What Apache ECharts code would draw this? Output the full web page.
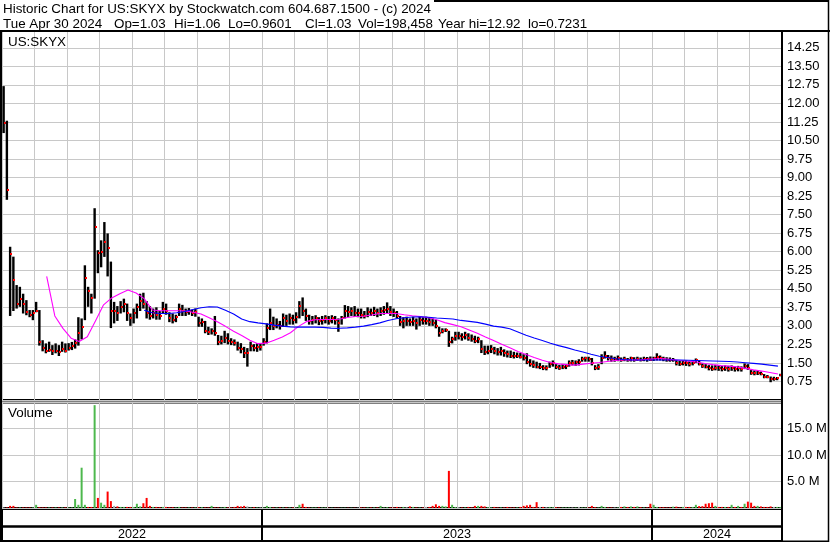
<!DOCTYPE html>
<html>
<head>
<meta charset="utf-8">
<script src="https://cdn.jsdelivr.net/npm/echarts/dist/echarts.min.js"></script>
<style>html,body{margin:0;padding:0;background:#fff}#c{width:830px;height:543px}</style>
</head>
<body>
<div id="c"></div>
<script>
// ---------------- DATA ----------------
const titleLine1 = 'Historic Chart for US:SKYX by Stockwatch.com 604.687.1500 - (c) 2024';
const titleFields = ['Tue Apr 30 2024', 'Op=1.03', 'Hi=1.06', 'Lo=0.9601', 'Cl=1.03', 'Vol=198,458', 'Year hi=12.92', 'lo=0.7231'];
const symbolLabel = 'US:SKYX';
const volumeTitle = 'Volume';

// months covered by the chart (categories)
const months = ['2022-05','2022-06','2022-07','2022-08','2022-09','2022-10','2022-11','2022-12',
  '2023-01','2023-02','2023-03','2023-04','2023-05','2023-06','2023-07','2023-08','2023-09','2023-10','2023-11','2023-12',
  '2024-01','2024-02','2024-03','2024-04'];

const priceLabels = ['0.75','1.50','2.25','3.00','3.75','4.50','5.25','6.00','6.75','7.50','8.25','9.00',
  '9.75','10.50','11.25','12.00','12.75','13.50','14.25'];
const volumeLabels = ['5.0 M','10.0 M','15.0 M'];

// sampled price bars (10 per month)
const highs = [
12.7,11.3,6.2,5.8,4.65,4.58,4.3,4.04,3.64,3.64,
3.97,3.64,2.42,2.29,2.36,2.22,2.29,2.22,2.36,2.29,
2.3,2.35,2.45,3.35,3.3,5.45,4.58,4.3,7.76,6.06,
6.46,7.2,6.74,5.6,3.97,3.8,4.0,4.1,3.9,3.5,
3.7,3.9,4.3,4.34,4.0,3.8,3.7,3.75,3.6,3.97,
3.9,3.55,3.5,3.45,3.9,3.85,3.7,3.72,3.65,3.7,
3.37,3.3,3.2,2.96,2.9,3.4,2.63,2.6,2.8,2.7,
2.5,2.45,2.36,2.3,2.15,2.1,2.36,2.26,2.3,2.3,
2.5,3.1,3.7,3.37,3.3,3.2,3.5,3.45,3.5,3.45,
3.55,4.0,4.15,3.7,3.45,3.4,3.43,3.35,3.4,3.43,
3.4,3.43,3.4,3.3,3.4,3.84,3.8,3.75,3.8,3.7,
3.7,3.6,3.75,3.7,3.77,3.7,3.75,3.8,3.95,3.8,
3.7,3.6,3.4,3.35,3.37,3.3,3.37,3.3,3.37,3.35,
3.37,3.35,3.3,3.25,2.96,2.9,2.9,2.8,2.56,2.76,
2.76,2.7,2.76,2.7,2.65,2.6,2.56,2.42,2.2,2.2,
2.22,2.15,2.1,2.15,2.05,2.0,2.0,1.95,1.92,1.9,
1.85,1.89,1.65,1.6,1.55,1.5,1.41,1.4,1.55,1.6,
1.45,1.42,1.45,1.45,1.6,1.62,1.6,1.65,1.75,1.75,
1.75,1.7,1.41,1.45,1.85,1.97,1.82,1.8,1.75,1.8,
1.72,1.75,1.7,1.75,1.73,1.75,1.72,1.75,1.74,1.76,
1.75,1.89,1.8,1.75,1.73,1.72,1.7,1.62,1.58,1.6,
1.6,1.58,1.6,1.68,1.6,1.48,1.45,1.41,1.4,1.42,
1.4,1.38,1.4,1.38,1.4,1.35,1.38,1.36,1.48,1.45,
1.21,1.2,1.18,1.15,1.05,1.01,0.95,0.94,0.93,1.06];

const lows = [
10.8,8.1,3.4,3.6,3.7,3.77,3.5,3.43,3.35,3.23,
3.55,2.2,1.97,1.89,1.95,1.82,1.89,1.78,1.95,1.92,
2.0,2.02,2.08,2.2,2.45,3.23,3.77,3.5,4.1,5.13,
5.37,5.79,5.0,2.91,3.1,3.2,3.5,3.55,3.2,3.0,
3.1,3.3,3.6,3.7,3.3,3.25,3.3,3.25,3.25,3.5,
3.45,3.15,3.1,3.15,3.4,3.4,3.4,3.45,3.4,3.37,
2.96,2.96,2.7,2.63,2.65,2.6,2.22,2.25,2.3,2.25,
2.22,2.2,2.0,1.89,1.7,1.35,1.97,1.97,1.95,2.0,
2.2,2.29,2.83,2.83,2.9,2.85,2.96,3.0,3.05,3.05,
3.1,3.3,3.4,3.2,3.05,3.05,3.1,3.03,3.05,3.1,
3.05,3.1,3.05,2.76,3.05,3.3,3.36,3.4,3.36,3.35,
3.3,3.3,3.35,3.4,3.4,3.35,3.4,3.45,3.5,3.4,
3.36,3.3,3.0,2.9,3.0,3.0,3.0,2.85,3.0,3.05,
3.05,3.0,3.0,2.9,2.56,2.7,2.75,2.15,2.29,2.4,
2.45,2.4,2.45,2.4,2.36,2.3,2.3,1.9,1.82,1.85,
1.9,1.85,1.8,1.8,1.75,1.72,1.7,1.68,1.7,1.68,
1.6,1.45,1.35,1.3,1.28,1.25,1.21,1.2,1.3,1.35,
1.25,1.22,1.25,1.25,1.35,1.4,1.38,1.4,1.55,1.55,
1.55,1.4,1.21,1.22,1.45,1.68,1.6,1.55,1.55,1.57,
1.55,1.57,1.55,1.56,1.55,1.58,1.56,1.57,1.55,1.58,
1.58,1.6,1.6,1.57,1.55,1.55,1.55,1.4,1.38,1.4,
1.38,1.36,1.4,1.5,1.4,1.3,1.28,1.2,1.18,1.2,
1.18,1.16,1.18,1.15,1.18,1.15,1.16,1.15,1.25,1.22,
1.02,1.0,1.01,1.0,0.88,0.88,0.72,0.78,0.8,0.96];

const closes = [
11.2,8.5,5.9,4.85,3.9,4.1,3.88,3.55,3.45,3.5,
3.6,2.35,2.1,1.99,2.02,1.98,2.0,1.95,2.05,1.99,
2.1,2.2,2.3,2.7,2.95,4.93,4.42,4.12,7.0,5.95,
6.0,6.4,6.14,3.6,3.6,3.5,3.75,3.9,3.5,3.3,
3.5,3.75,4.0,3.9,3.5,3.4,3.5,3.45,3.4,3.7,
3.6,3.3,3.25,3.35,3.7,3.6,3.55,3.6,3.5,3.55,
3.1,3.15,2.8,2.76,2.8,2.7,2.36,2.4,2.5,2.4,
2.35,2.3,2.1,2.05,1.9,1.9,2.2,2.1,2.15,2.15,
2.35,2.9,3.1,3.0,3.05,3.0,3.3,3.2,3.3,3.25,
3.35,3.8,3.6,3.4,3.2,3.25,3.3,3.2,3.25,3.3,
3.2,3.3,3.25,3.1,3.3,3.6,3.55,3.6,3.5,3.5,
3.45,3.4,3.55,3.5,3.6,3.5,3.6,3.65,3.7,3.55,
3.5,3.4,3.15,3.2,3.2,3.15,3.2,3.1,3.25,3.2,
3.2,3.15,3.1,3.0,2.7,2.8,2.85,2.35,2.45,2.6,
2.6,2.55,2.65,2.5,2.45,2.4,2.45,2.05,1.95,2.0,
2.05,2.0,1.95,1.98,1.9,1.85,1.8,1.78,1.8,1.75,
1.7,1.55,1.45,1.4,1.35,1.35,1.3,1.3,1.45,1.5,
1.35,1.3,1.35,1.38,1.5,1.5,1.55,1.55,1.65,1.68,
1.65,1.5,1.3,1.35,1.7,1.8,1.7,1.65,1.65,1.68,
1.62,1.65,1.6,1.68,1.63,1.65,1.62,1.66,1.64,1.6,
1.68,1.75,1.7,1.65,1.62,1.6,1.62,1.5,1.45,1.5,
1.48,1.45,1.5,1.6,1.45,1.38,1.35,1.28,1.24,1.3,
1.28,1.25,1.3,1.25,1.28,1.25,1.28,1.26,1.38,1.3,
1.1,1.08,1.1,1.05,0.95,0.93,0.85,0.85,0.88,1.03];

// volume in millions (same sampling)
const volumes = [
0.1,0.1,0.4,0.4,0.1,0.1,0.1,0.1,0.1,0.1,
0.6,0.15,0.1,0.1,0.1,0.1,0.1,0.1,0.1,0.1,
0.1,0.1,1.7,0.6,7.6,0.6,0.2,0.2,19.4,1.9,
1.0,0.6,3.1,1.3,0.4,0.3,0.2,0.2,0.2,0.2,
0.2,0.8,0.3,0.9,1.9,0.4,0.2,0.2,0.15,0.2,
0.2,0.15,0.15,0.1,0.2,0.1,0.1,0.1,0.1,0.1,
0.15,0.15,0.1,0.1,0.4,0.1,0.1,0.1,0.2,0.1,
0.1,0.2,0.4,0.3,0.4,0.3,0.1,0.15,0.1,0.1,
0.1,0.4,0.2,0.1,0.1,0.1,0.1,0.1,0.1,0.1,
0.1,0.6,0.8,0.2,0.1,0.1,0.1,0.1,0.1,0.1,
0.05,0.05,0.05,0.05,0.05,0.05,0.05,0.05,0.05,0.05,
0.1,0.1,0.1,0.1,0.1,0.1,0.4,0.1,0.15,0.1,
0.1,0.2,0.1,0.2,0.15,0.3,0.2,0.1,0.1,0.1,
0.2,0.2,0.4,0.7,0.4,0.4,0.3,7.0,0.6,0.2,
0.15,0.1,0.1,0.2,0.1,0.4,0.4,0.4,0.3,0.15,
0.1,0.2,0.1,0.1,0.1,0.2,0.1,0.1,0.1,0.2,
0.4,0.5,0.6,0.2,1.1,0.2,0.2,0.15,0.2,0.15,
0.15,0.1,0.1,0.1,0.1,0.1,0.1,0.2,0.1,0.1,
0.1,0.4,0.15,0.1,0.4,0.2,0.1,0.1,0.1,0.1,
0.2,0.3,0.2,0.3,0.2,0.3,0.15,0.1,0.1,0.8,
0.6,0.2,0.15,0.15,0.1,0.1,0.25,0.25,0.1,0.2,
0.2,0.2,0.2,0.6,0.35,0.35,0.8,0.9,1.0,0.4,
0.2,0.2,0.2,0.2,0.6,0.2,0.4,0.2,0.8,1.2,
1.0,0.4,0.4,0.3,0.2,0.2,0.3,0.2,0.2,0.2];

// moving averages (4 samples per month)
const maFast = [
null,null,null,null,
null,5.0,3.4,2.9,
2.5,2.37,2.56,3.2,
3.85,4.13,4.3,4.45,
4.33,4.1,3.64,3.61,
3.61,3.61,3.6,3.55,
3.48,3.33,3.17,2.98,
2.78,2.61,2.42,2.28,
2.3,2.42,2.55,2.72,
2.98,3.18,3.25,3.26,
3.26,3.27,3.34,3.38,
3.39,3.44,3.5,3.5,
3.5,3.45,3.41,3.38,
3.33,3.25,3.13,3.05,
2.96,2.83,2.7,2.55,
2.41,2.26,2.11,1.96,
1.84,1.72,1.61,1.52,
1.46,1.43,1.41,1.45,
1.49,1.52,1.56,1.6,
1.62,1.62,1.62,1.65,
1.67,1.67,1.64,1.6,
1.57,1.54,1.48,1.43,
1.39,1.37,1.34,1.28,
1.22,1.17,1.11,1.05];

const maSlow = [
null,null,null,null,
null,null,null,null,
null,null,null,null,
null,null,null,null,
null,3.63,3.53,3.5,
3.5,3.53,3.58,3.66,
3.73,3.77,3.76,3.63,
3.48,3.28,3.17,3.12,
3.08,3.03,2.99,2.96,
2.95,2.95,2.95,2.94,
2.91,2.9,2.92,2.95,
2.99,3.05,3.12,3.22,
3.29,3.33,3.36,3.37,
3.35,3.32,3.3,3.28,
3.22,3.18,3.14,3.07,
2.99,2.95,2.88,2.75,
2.62,2.51,2.41,2.3,
2.2,2.12,2.02,1.94,
1.85,1.77,1.72,1.67,
1.64,1.62,1.62,1.62,
1.62,1.62,1.62,1.62,
1.61,1.6,1.59,1.58,
1.57,1.56,1.54,1.51,
1.48,1.45,1.41,1.37];

// ---------------- BUILD ----------------
const FONT = '"Liberation Sans", Arial, sans-serif';
const nMonths = months.length;
const barsPerMonth = highs.length / nMonths;
const maPerMonth = maFast.length / nMonths;

const barData = highs.map((h, k) => [(k + 0.5) / barsPerMonth, lows[k], h, closes[k]]);
const volData = volumes.map((v, k) => [(k + 0.5) / barsPerMonth, v]);
const toLine = arr => arr.map((v, j) => v == null ? null : [(j + 0.5) / maPerMonth, v]).filter(Boolean);

const yearBands = [];
months.forEach((m, i) => {
  const y = m.slice(0, 4);
  const last = yearBands[yearBands.length - 1];
  if (!last || last.name !== y) yearBands.push({ name: y, start: i, end: i + 1 });
  else last.end = i + 1;
});
const yearData = yearBands.map(b => [b.start, b.end, 0.5]);

const GRID_L = 2, GRID_R = 48;
const gridColor = '#c8c8c8';

function yearRender(withText) {
  return function (params, api) {
    const s = api.coord([api.value(0), 0.5]);
    const e = api.coord([api.value(1), 0.5]);
    const cs = params.coordSys;
    const ch = [];
    if (api.value(0) > 0) {
      ch.push({ type: 'rect', shape: { x: Math.round(s[0]) - 1, y: cs.y, width: 2, height: cs.height }, style: { fill: '#000' } });
    }
    if (withText) {
      ch.push({ type: 'text', style: { text: yearBands[params.dataIndex].name, x: (s[0] + e[0]) / 2, y: cs.y + cs.height / 2 + 1,
        align: 'center', verticalAlign: 'middle', font: '12.6px ' + FONT, fill: '#000' } });
    }
    return { type: 'group', children: ch };
  };
}

// header line-2 field start positions (layout)
const fieldX = [3, 114, 174, 228, 305, 358, 438, 528];
const headerFont = '13.4px ' + FONT;

const graphics = [
  { type: 'text', x: 3, y: 9.3, z: 100, style: { text: titleLine1, font: headerFont, fill: '#000', verticalAlign: 'middle' } },
  { type: 'text', x: 8, y: 42.2, z: 100, style: { text: symbolLabel, font: headerFont, fill: '#000', verticalAlign: 'middle' } },
  { type: 'text', x: 8, y: 413.8, z: 100, style: { text: volumeTitle, font: headerFont, fill: '#000', verticalAlign: 'middle' } },
  // frame (the header text area covers the top-left part of it)
  { type: 'line', z: 100, shape: { x1: 434, y1: 1, x2: 829, y2: 1 }, style: { stroke: '#000', lineWidth: 2 } },
  { type: 'line', z: 100, shape: { x1: 1, y1: 31, x2: 1, y2: 542 }, style: { stroke: '#000', lineWidth: 2 } },
  { type: 'line', z: 100, shape: { x1: 828.5, y1: 0, x2: 828.5, y2: 542 }, style: { stroke: '#000', lineWidth: 1.5 } },
  { type: 'line', z: 100, shape: { x1: 0, y1: 541.3, x2: 829, y2: 541.3 }, style: { stroke: '#000', lineWidth: 1.5 } },
  { type: 'line', z: 100, shape: { x1: 0, y1: 31, x2: 830, y2: 31 }, style: { stroke: '#000', lineWidth: 2 } },
  { type: 'line', z: 100, shape: { x1: 782, y1: 31, x2: 782, y2: 542 }, style: { stroke: '#000', lineWidth: 2 } }
];
titleFields.forEach((t, i) => graphics.push({ type: 'text', x: fieldX[i], y: 23.9, z: 100,
  style: { text: t, font: headerFont, fill: '#000', verticalAlign: 'middle' } }));

const option = {
  backgroundColor: '#ffffff',
  animation: false,
  grid: [
    { left: GRID_L, right: GRID_R, top: 31, height: 369, show: true, borderColor: '#000', borderWidth: 2, outerBoundsMode: 'none' },
    { left: GRID_L, right: GRID_R, top: 402.5, height: 105.5, show: true, borderColor: '#000', borderWidth: 2, outerBoundsMode: 'none' },
    { left: GRID_L, right: GRID_R, top: 509, height: 17.5, show: true, borderColor: '#000', borderWidth: 2, outerBoundsMode: 'none' },
    { left: GRID_L, right: GRID_R, top: 526.5, height: 14.5, show: true, borderColor: '#000', borderWidth: 2, outerBoundsMode: 'none' }
  ],
  xAxis: [
    { type: 'value', gridIndex: 0, min: 0, max: nMonths, interval: 1,
      axisLine: { show: false }, axisTick: { show: false }, axisLabel: { show: false },
      splitLine: { show: true, lineStyle: { color: gridColor, width: 1 } } },
    { type: 'value', gridIndex: 1, min: 0, max: nMonths, interval: 1,
      axisLine: { show: false }, axisTick: { show: false }, axisLabel: { show: false },
      splitLine: { show: true, lineStyle: { color: gridColor, width: 1 } } },
    { type: 'value', gridIndex: 2, min: 0, max: nMonths, show: false },
    { type: 'value', gridIndex: 3, min: 0, max: nMonths, show: false }
  ],
  yAxis: [
    { type: 'value', gridIndex: 0, min: 0, max: 14.93, interval: 0.75, position: 'right',
      axisLine: { show: false }, axisTick: { show: false },
      axisLabel: { show: true, margin: 5, color: '#000', fontSize: 13, fontFamily: FONT,
        formatter: v => { const s = v.toFixed(2); return priceLabels.includes(s) ? s : ''; } },
      splitLine: { show: true, lineStyle: { color: gridColor, width: 1 } } },
    { type: 'value', gridIndex: 1, min: 0, max: 19.9, interval: 5, position: 'right',
      axisLine: { show: false }, axisTick: { show: false },
      axisLabel: { show: true, margin: 5, color: '#000', fontSize: 13, fontFamily: FONT,
        formatter: v => { const s = v.toFixed(1) + ' M'; return volumeLabels.includes(s) ? s : ''; } },
      splitLine: { show: true, lineStyle: { color: gridColor, width: 1 } } },
    { type: 'value', gridIndex: 2, min: 0, max: 1, show: false },
    { type: 'value', gridIndex: 3, min: 0, max: 1, show: false }
  ],
  series: [
    {
      name: 'price', type: 'custom', xAxisIndex: 0, yAxisIndex: 0, z: 2,
      encode: { x: 0, y: [1, 2, 3] },
      data: barData,
      renderItem: (params, api) => {
        const x = api.value(0);
        const pLo = api.coord([x, api.value(1)]);
        const pHi = api.coord([x, api.value(2)]);
        const pC = api.coord([x, api.value(3)]);
        const cx = pHi[0];
        return { type: 'group', children: [
          { type: 'rect', shape: { x: cx - 1.2, y: pHi[1], width: 2.4, height: Math.max(1.5, pLo[1] - pHi[1]) }, style: { fill: '#000' } },
          { type: 'rect', shape: { x: Math.round(cx), y: Math.round(pC[1]) - 1, width: 2, height: 2 }, style: { fill: '#ff0000' } }
        ] };
      }
    },
    {
      name: 'maFast', type: 'line', xAxisIndex: 0, yAxisIndex: 0, z: 4, data: toLine(maFast),
      symbol: 'none', showSymbol: false, lineStyle: { color: '#ff00ff', width: 1.1 }, silent: true
    },
    {
      name: 'maSlow', type: 'line', xAxisIndex: 0, yAxisIndex: 0, z: 5, data: toLine(maSlow),
      symbol: 'none', showSymbol: false, lineStyle: { color: '#0000ff', width: 1.1 }, silent: true
    },
    {
      name: 'volume', type: 'bar', xAxisIndex: 1, yAxisIndex: 1, data: volData, barWidth: 2,
      itemStyle: { color: p => {
        const k = p.dataIndex; const prev = k > 0 ? closes[k - 1] : closes[k];
        return closes[k] > prev ? '#4db84d' : (closes[k] < prev ? '#ff0000' : '#a8a8a8');
      } }, silent: true
    },
    { name: 'yearsTop', type: 'custom', xAxisIndex: 2, yAxisIndex: 2, encode: { x: [0, 1], y: 2 }, data: yearData, renderItem: yearRender(false), silent: true },
    { name: 'yearsBottom', type: 'custom', xAxisIndex: 3, yAxisIndex: 3, encode: { x: [0, 1], y: 2 }, data: yearData, renderItem: yearRender(true), silent: true }
  ],
  graphic: graphics
};

const chart = echarts.init(document.getElementById('c'), null, { renderer: 'canvas' });
chart.setOption(option);
</script>
</body>
</html>
